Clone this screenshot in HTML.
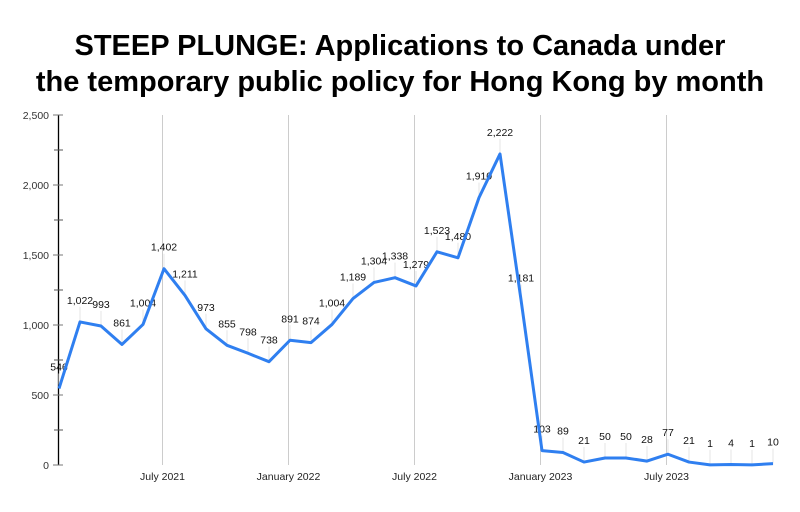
<!DOCTYPE html>
<html><head><meta charset="utf-8"><style>
body{margin:0;background:#fff;width:800px;height:507px;overflow:hidden}
svg text{font-family:"Liberation Sans",sans-serif}
</style></head><body>
<svg width="800" height="507" viewBox="0 0 800 507">
<text x="400" y="55" text-anchor="middle" font-size="29" font-weight="bold" fill="#000">STEEP PLUNGE: Applications to Canada under</text>
<text x="400" y="91" text-anchor="middle" font-size="29" font-weight="bold" fill="#000">the temporary public policy for Hong Kong by month</text>
<g id="g"></g>
</svg>
<script>
const d=[546,1022,993,861,1004,1402,1211,973,855,798,738,891,874,1004,1189,1304,1338,1279,1523,1480,1910,2222,1181,103,89,21,50,50,28,77,21,1,4,1,10];
const X=i=>59+21*i, Y=v=>465-v*0.14;
let s='';
[[5,'July 2021'],[11,'January 2022'],[17,'July 2022'],[23,'January 2023'],[29,'July 2023']].forEach(([i,t])=>{
 const x=X(i)-1.5;
 s+=`<line x1="${x}" y1="115" x2="${x}" y2="465" stroke="#ccc" stroke-width="1"/>`;
 s+=`<text x="${x}" y="480" text-anchor="middle" font-size="10.5" fill="#222">${t}</text>`;
});
s+=`<line x1="58.5" y1="115" x2="58.5" y2="465" stroke="#000" stroke-width="1.3"/>`;
for(let v=0;v<=2500;v+=250){const y=Y(v);
 s+=`<line x1="${v%500?54:53}" y1="${y}" x2="63" y2="${y}" stroke="${v%500?'#555':'#777'}" stroke-width="1"/>`;
 if(v%500==0)s+=`<text x="49" y="${y+4}" text-anchor="end" font-size="10.5" fill="#333">${v.toLocaleString('en-US')}</text>`;}
d.forEach((v,i)=>{const x=X(i),y=Y(v);
 s+=`<line x1="${x}" y1="${y-15}" x2="${x}" y2="${y}" stroke="#e4e4e4"/>`;
 s+=`<text x="${x}" y="${y-18}" text-anchor="middle" font-size="10.5" fill="#111">${v.toLocaleString('en-US')}</text>`;});
s+=`<polyline fill="none" stroke="#2f7ff0" stroke-width="3" stroke-linejoin="round" points="${d.map((v,i)=>X(i)+','+Y(v)).join(' ')}"/>`;
document.getElementById('g').innerHTML=s;
</script>
</body></html>
